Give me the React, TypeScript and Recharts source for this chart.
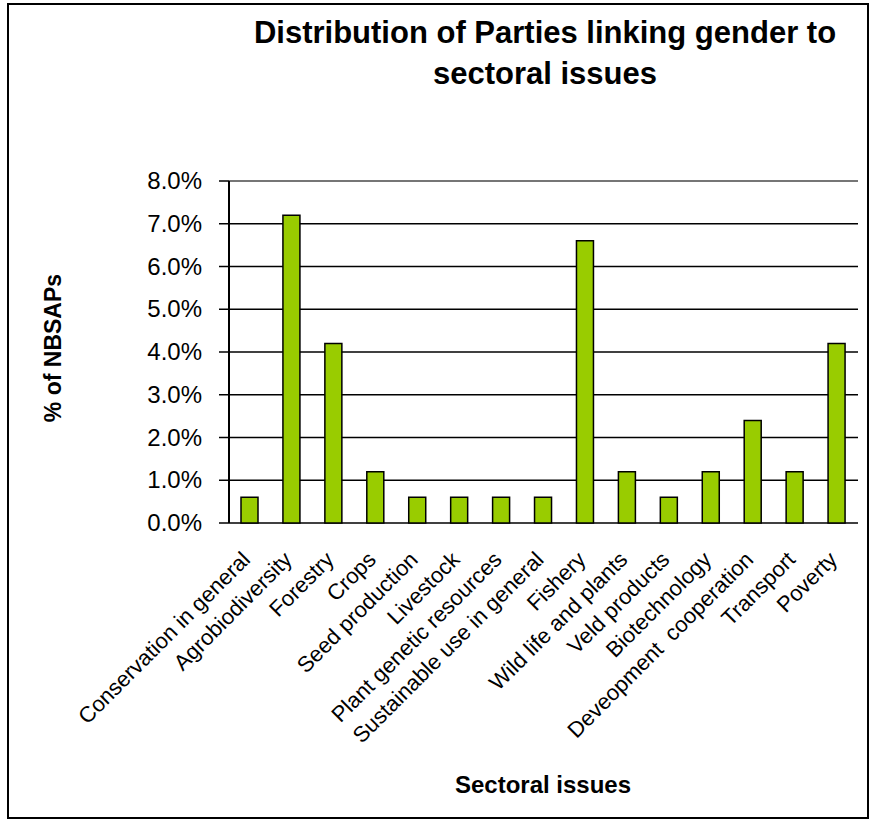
import React from 'react';
import {
  BarChart,
  Bar,
  XAxis,
  YAxis,
  CartesianGrid,
  ReferenceLine,
} from 'recharts';

const categories = [
  'Conservation in general',
  'Agrobiodiversity',
  'Forestry',
  'Crops',
  'Seed production',
  'Livestock',
  'Plant genetic resources',
  'Sustainable use in general',
  'Fishery',
  'Wild life and plants',
  'Veld products',
  'Biotechnology',
  'Deveopment  cooperation',
  'Transport',
  'Poverty',
];

// % of NBSAPs
const shares = [0.6, 7.2, 4.2, 1.2, 0.6, 0.6, 0.6, 0.6, 6.6, 1.2, 0.6, 1.2, 2.4, 1.2, 4.2];

const yTicks = [0, 1, 2, 3, 4, 5, 6, 7, 8];

const data = categories.map((name, i) => ({ name, share: shares[i] }));
const edgeTicks = [...categories.map((_, i) => i), categories.length];

const FONT = '"Liberation Sans", Arial, sans-serif';

const CategoryTick = (props: any) => {
  const { x, y, payload } = props;
  return (
    <g transform={`translate(${x + 1.5},${y + 30})`}>
      <text
        transform="rotate(-45)"
        textAnchor="end"
        fontSize={22}
        fill="#000"
        fontFamily={FONT}
        style={{ whiteSpace: 'pre' }}
      >
        {payload.value}
      </text>
    </g>
  );
};

const ValueTick = (props: any) => {
  const { x, y, payload } = props;
  return (
    <text
      x={x}
      y={y + 8}
      textAnchor="end"
      fontSize={24}
      fill="#000"
      fontFamily={FONT}
    >
      {`${Number(payload.value).toFixed(1)}%`}
    </text>
  );
};

export default function App() {
  return (
    <div
      style={{
        position: 'absolute',
        left: 7,
        top: 3,
        width: 862,
        height: 816,
        boxSizing: 'border-box',
        border: '2px solid #000',
        background: '#fff',
        fontFamily: FONT,
      }}
    >
      <BarChart
        width={858}
        height={812}
        data={data}
        margin={{ top: 176, right: 9, bottom: 0, left: 0 }}
        barSize={17}
      >
        <CartesianGrid
          xAxisId="cat"
          vertical={false}
          stroke="#000"
          strokeWidth={1.5}
        />
        <XAxis
          xAxisId="edge"
          type="number"
          domain={[0, categories.length]}
          ticks={edgeTicks}
          height={0}
          tick={() => <g />}
          tickSize={7}
          tickLine={{ stroke: '#000', strokeWidth: 1.5 }}
          axisLine={{ stroke: '#000', strokeWidth: 2 }}
          interval={0}
        />
        <XAxis
          xAxisId="cat"
          dataKey="name"
          height={294}
          interval={0}
          axisLine={false}
          tickLine={false}
          tick={<CategoryTick />}
        />
        <YAxis
          width={220}
          domain={[0, 8]}
          ticks={yTicks}
          interval={0}
          tickSize={10}
          tickMargin={17}
          tick={<ValueTick />}
          tickLine={{ stroke: '#000', strokeWidth: 1.5 }}
          axisLine={{ stroke: '#000', strokeWidth: 2 }}
        />
        <ReferenceLine xAxisId="cat" y={8} stroke="#888" strokeWidth={1.5} />
        <ReferenceLine xAxisId="edge" x={categories.length} stroke="#888" strokeWidth={1.5} />
        <Bar
          xAxisId="cat"
          dataKey="share"
          fill="#99CC00"
          stroke="#000"
          strokeWidth={1.5}
          isAnimationActive={false}
        />
      </BarChart>
      <svg
        width={858}
        height={812}
        style={{ position: 'absolute', left: 0, top: 0, pointerEvents: 'none' }}
      >
        <g fontFamily={FONT} fontWeight="bold" fill="#000">
          <text x={536} y={38} textAnchor="middle" fontSize={31}>
            Distribution of Parties linking gender to
          </text>
          <text x={536} y={79} textAnchor="middle" fontSize={31}>
            sectoral issues
          </text>
          <text
            x={52}
            y={343}
            textAnchor="middle"
            fontSize={23}
            transform="rotate(-90, 52, 343)"
          >
            % of NBSAPs
          </text>
          <text x={534} y={788} textAnchor="middle" fontSize={24}>
            Sectoral issues
          </text>
        </g>
      </svg>
    </div>
  );
}
